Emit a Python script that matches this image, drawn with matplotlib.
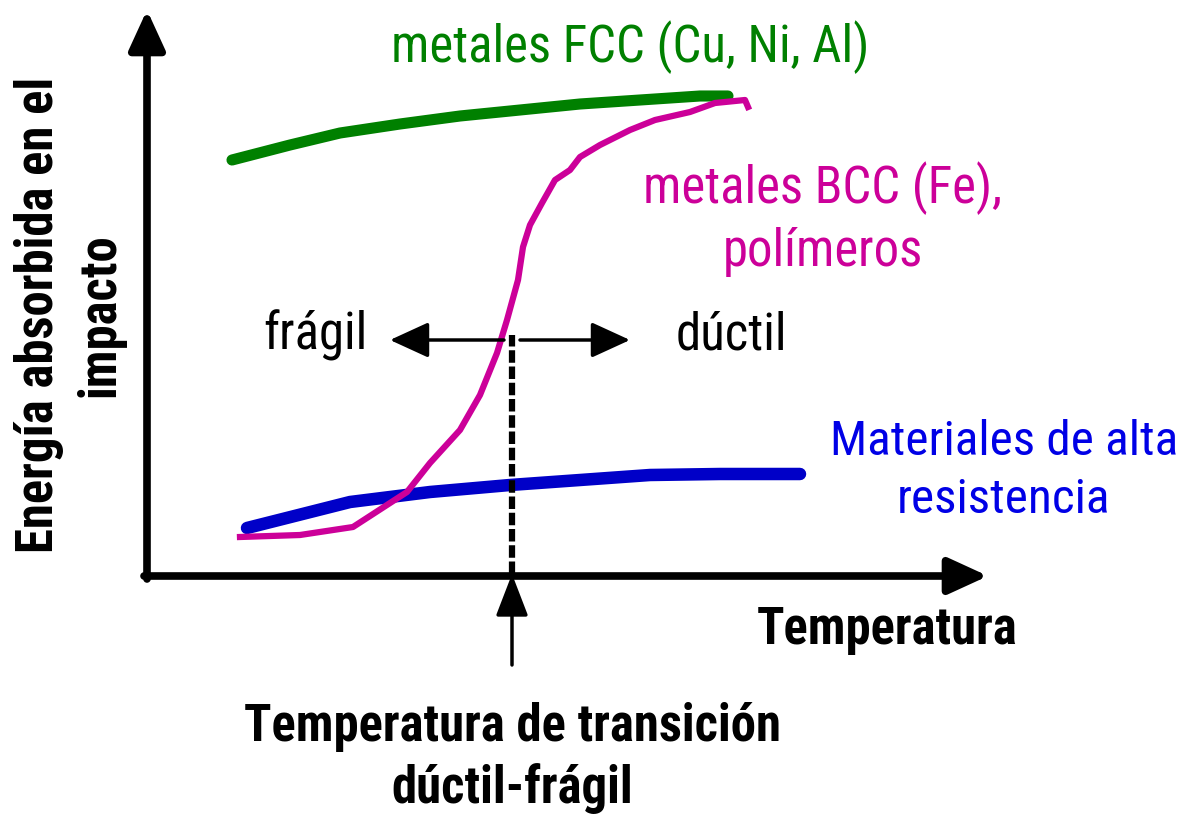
"""
Transición dúctil-frágil: energía absorbida en el impacto vs temperatura
"""

import matplotlib.pyplot as plt

# =============================================================================
# Data (arbitrary units: x = temperatura, y = energía, origin at the axes corner)
# =============================================================================

fcc_T = [85, 143, 193, 253, 313, 373, 433, 493, 553, 581]
fcc_E = [416, 431, 443, 452, 460, 466, 472, 476, 480, 480]

bcc_T = [93, 153, 206, 260, 283, 313, 333, 350, 360, 371, 376, 383, 395,
         408, 423, 433, 453, 483, 508, 543, 568, 598, 601]
bcc_E = [39, 41, 49, 84, 113, 146, 181, 223, 256, 296, 329, 351, 373,
         396, 406, 419, 431, 446, 456, 464, 473, 476, 469]

hsla_T = [100, 203, 283, 363, 433, 503, 573, 653]
hsla_E = [48, 74, 84, 91, 96, 101, 102, 102]

T_transicion = 365

FONT = ["Roboto Condensed", "DejaVu Sans"]
FS = 36.5
LS = 1.3

# =============================================================================
# Figure
# =============================================================================

fig = plt.figure(figsize=(11.82, 8.16), dpi=100)
ax = fig.add_axes([0, 0, 1, 1])
ax.set_xlim(-147, 1035)
ax.set_ylim(-240, 576)
ax.axis("off")

# axes drawn as arrows
axis_arrow = dict(arrowstyle="-|>,head_length=1.2,head_width=0.55",
                  mutation_scale=20, color="black", lw=5.5,
                  shrinkA=0, shrinkB=0)
ax.annotate("", xy=(0, 566), xytext=(0, -3), arrowprops=axis_arrow)
ax.annotate("", xy=(841, 0), xytext=(-3, 0), arrowprops=axis_arrow)

# curves
ax.plot(fcc_T, fcc_E, color="#008000", lw=8, solid_capstyle="round")
ax.plot(hsla_T, hsla_E, color="#0000c8", lw=9, solid_capstyle="round")
ax.plot(bcc_T, bcc_E, color="#cc0099", lw=4.5, solid_joinstyle="round")

# transition temperature marker
ax.plot([T_transicion, T_transicion], [2, 241], color="black", lw=4.5,
        linestyle=(0, (2, 0.6)))
ax.annotate("", xy=(T_transicion, 2), xytext=(T_transicion, -89),
            arrowprops=dict(arrowstyle="-|>,head_length=1.3,head_width=0.5",
                            mutation_scale=20, color="black", lw=2.5,
                            shrinkA=0, shrinkB=0))

# frágil / dúctil arrows
small_arrow = dict(arrowstyle="-|>,head_length=1.2,head_width=0.55",
                   mutation_scale=20, color="black", lw=2.5,
                   shrinkA=0, shrinkB=0)
ax.annotate("", xy=(243, 236), xytext=(357, 236), arrowprops=small_arrow)
ax.annotate("", xy=(483, 236), xytext=(373, 236), arrowprops=small_arrow)

# labels
ax.text(483, 529, "metales FCC (Cu, Ni, Al)", color="#008000", fontsize=FS,
        ha="center", va="center", family=FONT)
ax.text(676, 357, "metales BCC (Fe),\npolímeros", color="#cc0099", fontsize=FS,
        ha="center", va="center", linespacing=LS, family=FONT)
ax.text(168, 241, "frágil", color="black", fontsize=FS,
        ha="center", va="center", family=FONT)
ax.text(584, 241, "dúctil", color="black", fontsize=FS,
        ha="center", va="center", family=FONT)
ax.text(857, 105, "Materiales de alta\nresistencia", color="#0000e6",
        fontsize=35.5, ha="center", va="center", linespacing=LS + 0.03,
        family=FONT)
ax.text(740, -54, "Temperatura", color="black", fontsize=FS,
        fontweight="bold", ha="center", va="center", family=FONT)
ax.text(T_transicion, -182, "Temperatura de transición\ndúctil-frágil",
        color="black", fontsize=FS, fontweight="bold", ha="center",
        va="center", linespacing=LS, family=FONT)
ax.text(-77, 261, "Energía absorbida en el\nimpacto", color="black",
        fontsize=FS, fontweight="bold", rotation=90, ha="center",
        va="center", multialignment="center", linespacing=LS, family=FONT)

plt.savefig("out.png", dpi=100)
plt.close()
